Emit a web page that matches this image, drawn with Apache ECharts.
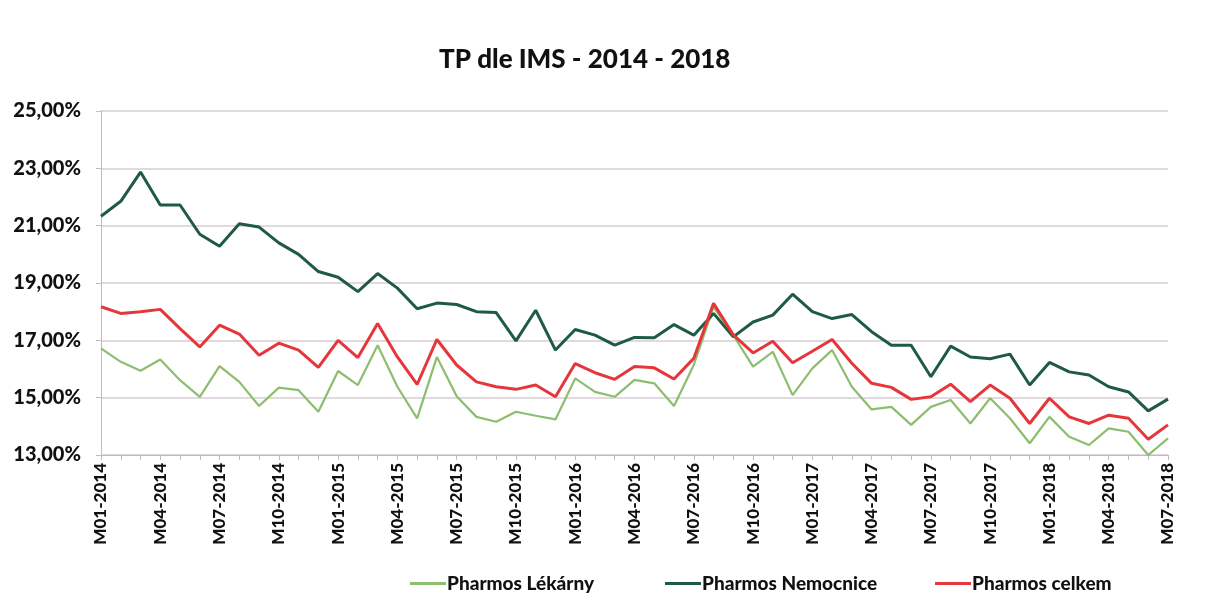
<!DOCTYPE html>
<html>
<head>
<meta charset="utf-8">
<script src="https://cdn.jsdelivr.net/npm/echarts@6/dist/echarts.min.js"></script>
<style>
html,body{margin:0;padding:0;background:#fff;}
#c{width:1215px;height:599px;}
</style>
</head>
<body>
<div id="c"></div>
<script>
const categories = [
'M01-2014','M02-2014','M03-2014','M04-2014','M05-2014','M06-2014','M07-2014','M08-2014','M09-2014','M10-2014','M11-2014','M12-2014',
'M01-2015','M02-2015','M03-2015','M04-2015','M05-2015','M06-2015','M07-2015','M08-2015','M09-2015','M10-2015','M11-2015','M12-2015',
'M01-2016','M02-2016','M03-2016','M04-2016','M05-2016','M06-2016','M07-2016','M08-2016','M09-2016','M10-2016','M11-2016','M12-2016',
'M01-2017','M02-2017','M03-2017','M04-2017','M05-2017','M06-2017','M07-2017','M08-2017','M09-2017','M10-2017','M11-2017','M12-2017',
'M01-2018','M02-2018','M03-2018','M04-2018','M05-2018','M06-2018','M07-2018'
];
const lekarny = [
16.72,16.25,15.94,16.33,15.61,15.03,16.10,15.55,14.71,15.35,15.26,14.51,
15.93,15.44,16.83,15.38,14.28,16.42,15.05,14.33,14.16,14.51,14.37,14.24,
15.67,15.20,15.03,15.62,15.50,14.71,16.14,18.17,17.18,16.08,16.60,15.09,
16.02,16.66,15.38,14.59,14.68,14.05,14.68,14.92,14.10,14.98,14.28,13.41,
14.33,13.64,13.35,13.93,13.81,13.00,13.58
];
const nemocnice = [
21.33,21.85,22.87,21.72,21.72,20.70,20.28,21.07,20.95,20.40,20.00,19.40,
19.20,18.70,19.33,18.82,18.10,18.30,18.25,18.00,17.97,16.98,18.05,16.66,
17.38,17.18,16.83,17.10,17.09,17.55,17.18,17.94,17.12,17.64,17.88,18.61,
18.00,17.76,17.90,17.30,16.83,16.83,15.73,16.80,16.42,16.36,16.52,15.44,
16.23,15.90,15.79,15.38,15.20,14.54,14.95
];
const celkem = [
18.17,17.94,18.00,18.08,17.41,16.77,17.53,17.22,16.48,16.90,16.66,16.06,
17.00,16.40,17.59,16.42,15.46,17.03,16.14,15.55,15.38,15.29,15.44,15.03,
16.19,15.87,15.64,16.09,16.04,15.65,16.37,18.29,17.19,16.56,16.97,16.22,
16.62,17.03,16.20,15.50,15.36,14.94,15.03,15.47,14.86,15.44,14.98,14.10,
14.98,14.33,14.10,14.39,14.28,13.55,14.05
];
const seriesNames = ['Pharmos Lékárny','Pharmos Nemocnice','Pharmos celkem'];
const colors = ['#8dbd6e','#1f5a43','#e5363c'];

const FONT = 'Lato';
const chart = echarts.init(document.getElementById('c'), null, {renderer:'canvas'});
function legendAt(i, left){
  return {
    data:[seriesNames[i]], left:left, top:569, itemWidth:36, itemHeight:3, itemGap:0,
    icon:'rect',
    textStyle:{fontFamily:FONT, fontWeight:900, fontSize:19, color:'#111', padding:[0,0,0,-4]}
  };
}
chart.setOption({
  animation:false,
  backgroundColor:'#fff',
  title:{
    text:'TP dle IMS - 2014 - 2018', left:434, top:42,
    textStyle:{fontFamily:FONT, fontWeight:900, fontSize:26, color:'#111'}
  },
  legend:[legendAt(0,405), legendAt(1,660), legendAt(2,930)],
  grid:{left:101, right:47, top:111, bottom:144, containLabel:false},
  xAxis:{
    type:'category', data:categories, boundaryGap:false,
    axisLine:{lineStyle:{color:'#bdbdbd', width:1}},
    axisTick:{show:true, interval:0, length:5, lineStyle:{color:'#bdbdbd'}},
    axisLabel:{interval:2, rotate:90, fontFamily:FONT, fontWeight:900, fontSize:17, color:'#111', margin:8}
  },
  yAxis:{
    type:'value', min:13, max:25, interval:2,
    axisLine:{show:true, lineStyle:{color:'#bdbdbd'}},
    axisTick:{show:true, length:5, lineStyle:{color:'#bdbdbd'}},
    splitLine:{lineStyle:{color:'#d9cdd3', width:1.5}},
    axisLabel:{
      fontFamily:FONT, fontWeight:900, fontSize:20, color:'#111', margin:20,
      formatter:v=>v.toFixed(2).replace('.',',')+'%'
    }
  },
  series:[
    {name:seriesNames[0], type:'line', data:lekarny, symbol:'none', lineStyle:{color:colors[0], width:2.2}, itemStyle:{color:colors[0]}, z:2},
    {name:seriesNames[1], type:'line', data:nemocnice, symbol:'none', lineStyle:{color:colors[1], width:3}, itemStyle:{color:colors[1]}, z:3},
    {name:seriesNames[2], type:'line', data:celkem, symbol:'none', lineStyle:{color:colors[2], width:3}, itemStyle:{color:colors[2]}, z:4}
  ]
});
</script>
</body>
</html>
